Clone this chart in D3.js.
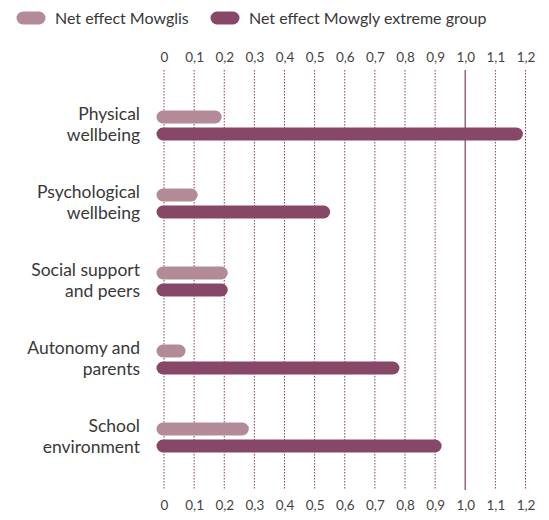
<!DOCTYPE html>
<html>
<head>
<meta charset="utf-8">
<script src="https://cdn.jsdelivr.net/npm/d3@7"></script>
<style>
  body { margin: 0; background: #fff; }
  text { font-family: Lato, "Open Sans", sans-serif; fill: #383838; }
</style>
</head>
<body>
<script>
// chart data
var categories = [["Physical", "wellbeing"], ["Psychological", "wellbeing"], ["Social support", "and peers"], ["Autonomy and", "parents"], ["School", "environment"]];
var mowglis = [0.17, 0.09, 0.19, 0.05, 0.26];
var extreme = [1.17, 0.53, 0.19, 0.76, 0.90];
var seriesNames = ["Net effect Mowglis", "Net effect Mowgly extreme group"];
var ticks = [0, 0.1, 0.2, 0.3, 0.4, 0.5, 0.6, 0.7, 0.8, 0.9, 1.0, 1.1, 1.2];

var W = 549, H = 520;
var light = "#b38b97", dark = "#864866";

var svg = d3.select("body").append("svg")
  .attr("width", W).attr("height", H);

var x = d3.scaleLinear().domain([0, 1.2]).range([164, 525.5]);
var y = d3.scaleBand().domain(d3.range(categories.length)).range([86, 476]);

var fmt = function(d) { return d === 0 ? "0" : d3.format(".1f")(d).replace(".", ","); };

/***Grid lines***/
svg.append("g").selectAll("line")
  .data(ticks)
  .enter().append("line")
    .attr("x1", function(d) { return x(d); })
    .attr("x2", function(d) { return x(d); })
    .attr("y1", 70).attr("y2", 490)
    .attr("stroke", function(d) { return d === 1 ? "#9b6b81" : "#8a3d5e"; })
    .attr("stroke-width", function(d) { return d === 1 ? 1.6 : 1; })
    .attr("stroke-dasharray", function(d) { return d === 1 ? null : "1.5,1.5"; });

/***Axes (top and bottom, labels only)***/
var axTop = d3.axisTop(x).tickValues(ticks).tickFormat(fmt).tickSize(0).tickPadding(0);
var axBot = d3.axisBottom(x).tickValues(ticks).tickFormat(fmt).tickSize(0).tickPadding(0);
svg.append("g").attr("transform", "translate(0,62)").call(axTop);
svg.append("g").attr("transform", "translate(0,500)").call(axBot);
svg.selectAll(".domain").remove();
svg.selectAll(".tick text")
  .style("font-family", "Lato, 'Open Sans', sans-serif")
  .style("font-size", "13.5px")
  .style("fill", "#444");

/***Bars: round capped lines***/
var barW = 13;
var g = svg.append("g");
[mowglis, extreme].forEach(function(vals, s) {
  g.selectAll(".bar" + s)
    .data(vals)
    .enter().append("line")
      .attr("class", "bar" + s)
      .attr("x1", x(0) - 1)
      .attr("x2", function(d) { return x(d); })
      .attr("y1", function(d, i) { return y(i) + 31 + s * 17; })
      .attr("y2", function(d, i) { return y(i) + 31 + s * 17; })
      .attr("stroke", s === 0 ? light : dark)
      .attr("stroke-width", barW)
      .attr("stroke-linecap", "round");
});

/***Category labels***/
var lab = svg.append("g").selectAll("text")
  .data(categories)
  .enter().append("text")
    .attr("text-anchor", "end")
    .style("font-size", "17.5px")
    .attr("x", 140)
    .attr("y", function(d, i) { return y(i) + 34; });
lab.selectAll("tspan")
  .data(function(d) { return d; })
  .enter().append("tspan")
    .attr("x", 140)
    .attr("dy", function(d, j) { return j === 0 ? 0 : 21; })
    .text(function(d) { return d; });

/***Legend***/
var legX = [31, 225];
var leg = svg.append("g").selectAll("g")
  .data(seriesNames)
  .enter().append("g")
    .attr("transform", function(d, i) { return "translate(" + legX[i] + ",18)"; });
leg.append("line")
  .attr("x1", -8).attr("x2", 8)
  .attr("stroke", function(d, i) { return i === 0 ? light : dark; })
  .attr("stroke-width", 13)
  .attr("stroke-linecap", "round");
leg.append("text")
  .attr("x", 24).attr("dy", "0.35em")
  .style("font-size", "16px")
  .text(function(d) { return d; });
</script>
</body>
</html>
